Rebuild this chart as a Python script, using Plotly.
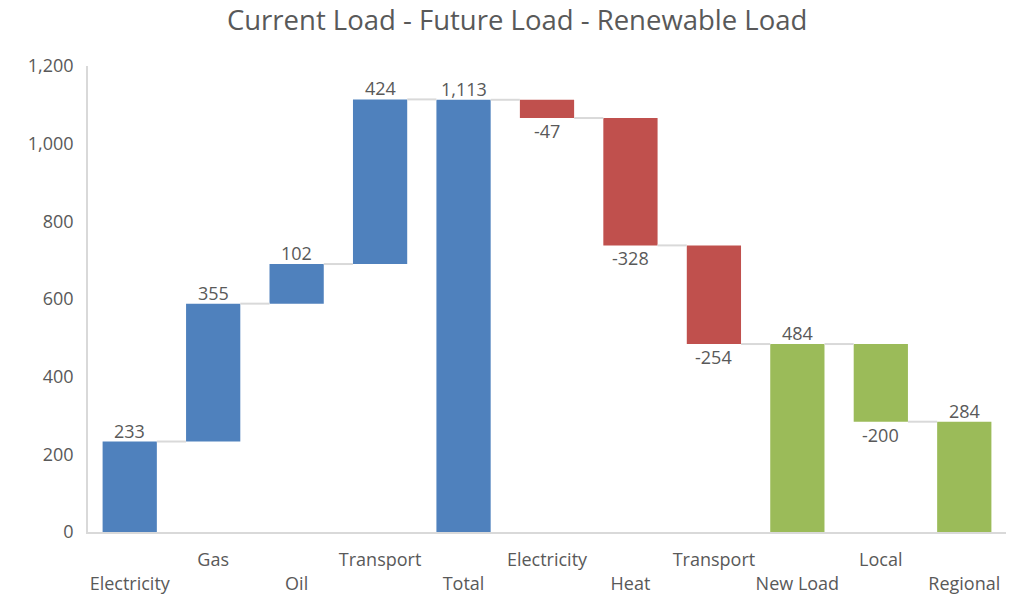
import plotly.graph_objects as go

categories = ["Electricity", "Gas", "Oil", "Transport", "Total",
              "Electricity", "Heat", "Transport", "New Load", "Local", "Regional"]
values = [233, 355, 102, 424, 1113, -47, -328, -254, 484, -200, 284]
measures = ["relative", "relative", "relative", "relative", "total",
            "relative", "relative", "relative", "total", "relative", "total"]
groups = ["current", "current", "current", "current", "current",
          "future", "future", "future", "renew", "renew", "renew"]
label_text = ["233", "355", "102", "424", "1,113", "-47", "-328", "-254", "484", "-200", "284"]
ytick_vals = [0, 200, 400, 600, 800, 1000, 1200]

colors = {"current": "#4F81BD", "future": "#C0504D", "renew": "#9BBB59"}
BAR_W = 0.65
TXT = "#595959"

# compute bases/tops from data
bases, tops, ends = [], [], []
running = 0
for v, m in zip(values, measures):
    if m == "total":
        running = v
        bases.append(0)
        tops.append(v)
    else:
        start = running
        running += v
        bases.append(min(start, running))
        tops.append(max(start, running))
    ends.append(running)

x = list(range(len(categories)))
heights = [t - b for t, b in zip(tops, bases)]

fig = go.Figure()
fig.add_trace(go.Bar(
    x=x, y=heights, base=bases, width=BAR_W,
    marker=dict(color=[colors[g] for g in groups], line=dict(width=0)),
    hoverinfo="skip", showlegend=False,
))

# connectors
cx, cy = [], []
for i in range(len(x) - 1):
    cx += [x[i] + BAR_W / 2, x[i + 1] - BAR_W / 2, None]
    cy += [ends[i], ends[i], None]
fig.add_trace(go.Scatter(x=cx, y=cy, mode="lines",
                         line=dict(color="#D9D9D9", width=2),
                         hoverinfo="skip", showlegend=False))

# data labels
for i, v in enumerate(values):
    if v >= 0:
        fig.add_annotation(x=x[i], y=tops[i], text=label_text[i], showarrow=False,
                           xanchor="center", yanchor="bottom", yshift=-3,
                           font=dict(size=18, color=TXT))
    else:
        fig.add_annotation(x=x[i], y=bases[i], text=label_text[i], showarrow=False,
                           xanchor="center", yanchor="top", yshift=1,
                           font=dict(size=18, color=TXT))

ticktext = [("<br>" + c) if i % 2 == 0 else c for i, c in enumerate(categories)]

fig.update_layout(
    width=1020, height=596,
    margin=dict(l=88, r=14, t=66, b=64, autoexpand=False),
    paper_bgcolor="white", plot_bgcolor="white",
    font=dict(family="Open Sans, sans-serif", color=TXT, size=18),
    title=dict(text="Current Load - Future Load - Renewable Load",
               x=0.507, xanchor="center", y=0.966, yanchor="middle",
               font=dict(size=27.5, color=TXT)),
    xaxis=dict(range=[-0.5, len(categories) - 0.5], tickmode="array",
               tickvals=x, ticktext=ticktext, showgrid=False, zeroline=False,
               showline=True, linecolor="#D9D9D9", linewidth=1.5,
               ticks="", ticklabelstandoff=11, automargin=False, tickangle=0,
               tickfont=dict(size=18, color=TXT)),
    yaxis=dict(range=[0, 1200], tickvals=ytick_vals, tickformat=",",
               showgrid=False, zeroline=False, showline=True,
               linecolor="#D9D9D9", linewidth=1.5, ticks="",
               ticklabelstandoff=9, automargin=False,
               tickfont=dict(size=18, color=TXT)),
)

fig.write_html("out.html", config={"displayModeBar": False},
               post_script="document.body.style.margin='0';document.body.style.overflow='hidden';")
